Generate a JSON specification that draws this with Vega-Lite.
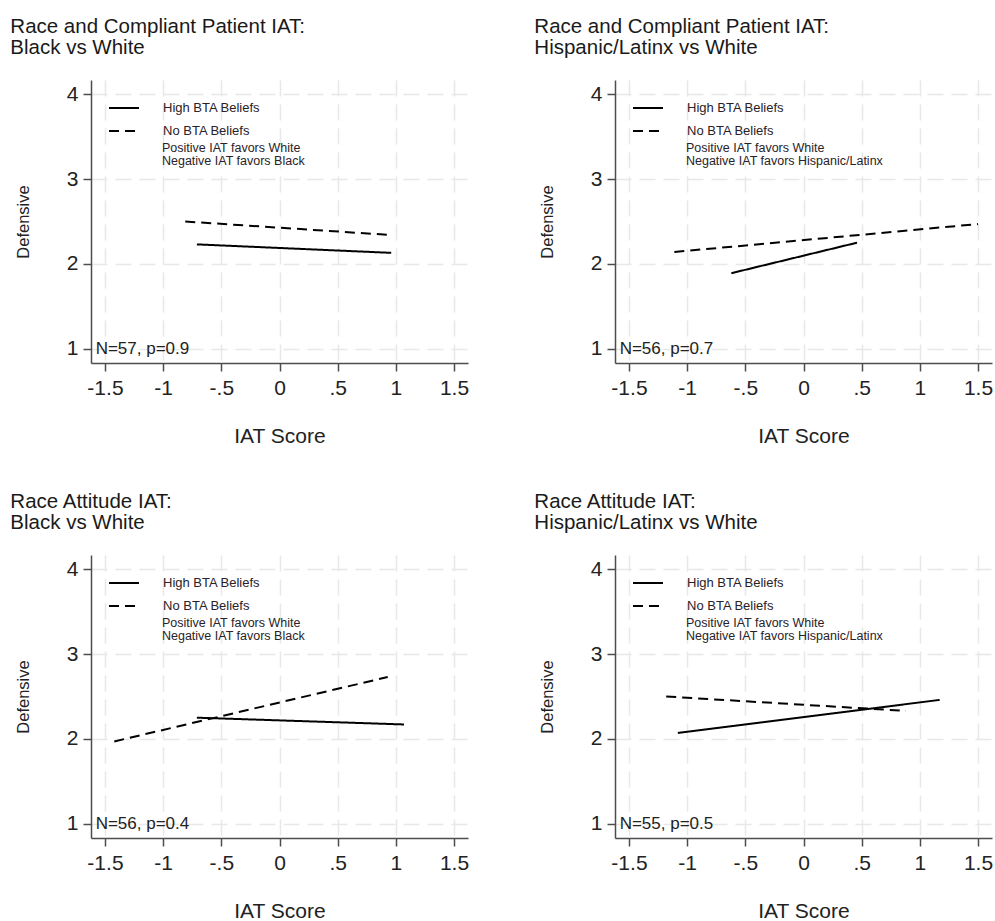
{
  "$schema": "https://vega.github.io/schema/vega-lite/v6.json",
  "background": "white",
  "padding": {"left": 10, "top": 16, "right": 5, "bottom": 5},
  "data": {"values": [
    {"panel": "A", "group": "High BTA Beliefs", "iat": -0.71, "defensive": 2.23},
    {"panel": "A", "group": "High BTA Beliefs", "iat": 0.96, "defensive": 2.13},
    {"panel": "A", "group": "No BTA Beliefs", "iat": -0.81, "defensive": 2.50},
    {"panel": "A", "group": "No BTA Beliefs", "iat": 0.96, "defensive": 2.34},
    {"panel": "B", "group": "High BTA Beliefs", "iat": -0.62, "defensive": 1.89},
    {"panel": "B", "group": "High BTA Beliefs", "iat": 0.46, "defensive": 2.25},
    {"panel": "B", "group": "No BTA Beliefs", "iat": -1.11, "defensive": 2.14},
    {"panel": "B", "group": "No BTA Beliefs", "iat": 1.50, "defensive": 2.47},
    {"panel": "C", "group": "High BTA Beliefs", "iat": -0.71, "defensive": 2.25},
    {"panel": "C", "group": "High BTA Beliefs", "iat": 1.07, "defensive": 2.17},
    {"panel": "C", "group": "No BTA Beliefs", "iat": -1.42, "defensive": 1.97},
    {"panel": "C", "group": "No BTA Beliefs", "iat": 0.93, "defensive": 2.73},
    {"panel": "D", "group": "High BTA Beliefs", "iat": -1.08, "defensive": 2.07},
    {"panel": "D", "group": "High BTA Beliefs", "iat": 1.17, "defensive": 2.46},
    {"panel": "D", "group": "No BTA Beliefs", "iat": -1.18, "defensive": 2.50},
    {"panel": "D", "group": "No BTA Beliefs", "iat": 0.88, "defensive": 2.33}
  ]},
  "config": {
    "font": "Liberation Sans",
    "view": {"stroke": null},
    "title": {"fontSize": 20.5, "fontWeight": "normal", "anchor": "start", "frame": "bounds", "dx": -5, "lineHeight": 21, "color": "#1a1a1a", "offset": 22},
    "axis": {
      "domainColor": "#4d4d4d", "domainWidth": 1.5,
      "tickColor": "#4d4d4d", "tickWidth": 1.5, "tickSize": 8,
      "labelFontSize": 21, "labelColor": "#222222",
      "gridColor": "#e8e8e8", "gridDash": [16, 8], "gridWidth": 1.5,
      "titleFontWeight": "normal", "titleColor": "#222222"
    },
    "axisX": {"labelPadding": 6, "titlePadding": 27, "titleFontSize": 21},
    "axisY": {"labelPadding": 5, "titlePadding": 35, "titleFontSize": 16.5},
    "legend": {
      "orient": "none", "legendX": 17, "legendY": 12,
      "symbolType": "stroke", "symbolSize": 900, "symbolStrokeWidth": 2, "symbolStrokeColor": "black",
      "labelFontSize": 13, "labelColor": "#2a2228", "labelOffset": 23, "rowPadding": -9
    }
  },
  "columns": 2,
  "spacing": {"row": 192, "column": 147},
  "bounds": "flush",
  "resolve": {"scale": {"strokeDash": "independent"}, "legend": {"strokeDash": "independent"}},
  "concat": [
    {
      "title": {"text": ["Race and Compliant Patient IAT:", "Black vs White"]},
      "width": 377, "height": 283,
      "layer": [
        {
          "transform": [{"filter": "datum.panel == 'A'"}],
          "mark": {"type": "line", "color": "black", "strokeWidth": 2},
          "encoding": {
            "x": {"field": "iat", "type": "quantitative", "scale": {"domain": [-1.62, 1.62], "nice": false, "zero": false}, "axis": {"title": "IAT Score", "values": [-1.5, -1, -0.5, 0, 0.5, 1, 1.5], "labelExpr": "datum.value == 0 ? '0' : replace(toString(datum.value), '0.', '.')"}},
            "y": {"field": "defensive", "type": "quantitative", "scale": {"domain": [0.83, 4.17], "nice": false, "zero": false}, "axis": {"title": "Defensive", "values": [1, 2, 3, 4], "format": "d"}},
            "strokeDash": {"field": "group", "type": "nominal", "scale": {"domain": ["High BTA Beliefs", "No BTA Beliefs"], "range": [[1, 0], [10, 6]]}, "legend": {"title": null}}
          }
        },
        {
          "data": {"values": [{"note": "Positive IAT favors White|Negative IAT favors Black"}]},
          "mark": {"type": "text", "align": "left", "baseline": "middle", "fontSize": 12.5, "lineHeight": 13, "lineBreak": "|", "color": "#2a2228"},
          "encoding": {"text": {"field": "note"}, "x": {"datum": -1.01}, "y": {"datum": 3.37}}
        },
        {
          "data": {"values": [{"stat": "N=57, p=0.9"}]},
          "mark": {"type": "text", "align": "left", "baseline": "middle", "fontSize": 17, "color": "#222222"},
          "encoding": {"text": {"field": "stat"}, "x": {"datum": -1.58}, "y": {"datum": 1}}
        }
      ]
    },
    {
      "title": {"text": ["Race and Compliant Patient IAT:", "Hispanic/Latinx vs White"]},
      "width": 377, "height": 283,
      "layer": [
        {
          "transform": [{"filter": "datum.panel == 'B'"}],
          "mark": {"type": "line", "color": "black", "strokeWidth": 2},
          "encoding": {
            "x": {"field": "iat", "type": "quantitative", "scale": {"domain": [-1.62, 1.62], "nice": false, "zero": false}, "axis": {"title": "IAT Score", "values": [-1.5, -1, -0.5, 0, 0.5, 1, 1.5], "labelExpr": "datum.value == 0 ? '0' : replace(toString(datum.value), '0.', '.')"}},
            "y": {"field": "defensive", "type": "quantitative", "scale": {"domain": [0.83, 4.17], "nice": false, "zero": false}, "axis": {"title": "Defensive", "values": [1, 2, 3, 4], "format": "d"}},
            "strokeDash": {"field": "group", "type": "nominal", "scale": {"domain": ["High BTA Beliefs", "No BTA Beliefs"], "range": [[1, 0], [10, 6]]}, "legend": {"title": null}}
          }
        },
        {
          "data": {"values": [{"note": "Positive IAT favors White|Negative IAT favors Hispanic/Latinx"}]},
          "mark": {"type": "text", "align": "left", "baseline": "middle", "fontSize": 12.5, "lineHeight": 13, "lineBreak": "|", "color": "#2a2228"},
          "encoding": {"text": {"field": "note"}, "x": {"datum": -1.01}, "y": {"datum": 3.37}}
        },
        {
          "data": {"values": [{"stat": "N=56, p=0.7"}]},
          "mark": {"type": "text", "align": "left", "baseline": "middle", "fontSize": 17, "color": "#222222"},
          "encoding": {"text": {"field": "stat"}, "x": {"datum": -1.58}, "y": {"datum": 1}}
        }
      ]
    },
    {
      "title": {"text": ["Race Attitude IAT:", "Black vs White"]},
      "width": 377, "height": 283,
      "layer": [
        {
          "transform": [{"filter": "datum.panel == 'C'"}],
          "mark": {"type": "line", "color": "black", "strokeWidth": 2},
          "encoding": {
            "x": {"field": "iat", "type": "quantitative", "scale": {"domain": [-1.62, 1.62], "nice": false, "zero": false}, "axis": {"title": "IAT Score", "values": [-1.5, -1, -0.5, 0, 0.5, 1, 1.5], "labelExpr": "datum.value == 0 ? '0' : replace(toString(datum.value), '0.', '.')"}},
            "y": {"field": "defensive", "type": "quantitative", "scale": {"domain": [0.83, 4.17], "nice": false, "zero": false}, "axis": {"title": "Defensive", "values": [1, 2, 3, 4], "format": "d"}},
            "strokeDash": {"field": "group", "type": "nominal", "scale": {"domain": ["High BTA Beliefs", "No BTA Beliefs"], "range": [[1, 0], [10, 6]]}, "legend": {"title": null}}
          }
        },
        {
          "data": {"values": [{"note": "Positive IAT favors White|Negative IAT favors Black"}]},
          "mark": {"type": "text", "align": "left", "baseline": "middle", "fontSize": 12.5, "lineHeight": 13, "lineBreak": "|", "color": "#2a2228"},
          "encoding": {"text": {"field": "note"}, "x": {"datum": -1.01}, "y": {"datum": 3.37}}
        },
        {
          "data": {"values": [{"stat": "N=56, p=0.4"}]},
          "mark": {"type": "text", "align": "left", "baseline": "middle", "fontSize": 17, "color": "#222222"},
          "encoding": {"text": {"field": "stat"}, "x": {"datum": -1.58}, "y": {"datum": 1}}
        }
      ]
    },
    {
      "title": {"text": ["Race Attitude IAT:", "Hispanic/Latinx vs White"]},
      "width": 377, "height": 283,
      "layer": [
        {
          "transform": [{"filter": "datum.panel == 'D'"}],
          "mark": {"type": "line", "color": "black", "strokeWidth": 2},
          "encoding": {
            "x": {"field": "iat", "type": "quantitative", "scale": {"domain": [-1.62, 1.62], "nice": false, "zero": false}, "axis": {"title": "IAT Score", "values": [-1.5, -1, -0.5, 0, 0.5, 1, 1.5], "labelExpr": "datum.value == 0 ? '0' : replace(toString(datum.value), '0.', '.')"}},
            "y": {"field": "defensive", "type": "quantitative", "scale": {"domain": [0.83, 4.17], "nice": false, "zero": false}, "axis": {"title": "Defensive", "values": [1, 2, 3, 4], "format": "d"}},
            "strokeDash": {"field": "group", "type": "nominal", "scale": {"domain": ["High BTA Beliefs", "No BTA Beliefs"], "range": [[1, 0], [10, 6]]}, "legend": {"title": null}}
          }
        },
        {
          "data": {"values": [{"note": "Positive IAT favors White|Negative IAT favors Hispanic/Latinx"}]},
          "mark": {"type": "text", "align": "left", "baseline": "middle", "fontSize": 12.5, "lineHeight": 13, "lineBreak": "|", "color": "#2a2228"},
          "encoding": {"text": {"field": "note"}, "x": {"datum": -1.01}, "y": {"datum": 3.37}}
        },
        {
          "data": {"values": [{"stat": "N=55, p=0.5"}]},
          "mark": {"type": "text", "align": "left", "baseline": "middle", "fontSize": 17, "color": "#222222"},
          "encoding": {"text": {"field": "stat"}, "x": {"datum": -1.58}, "y": {"datum": 1}}
        }
      ]
    }
  ]
}
